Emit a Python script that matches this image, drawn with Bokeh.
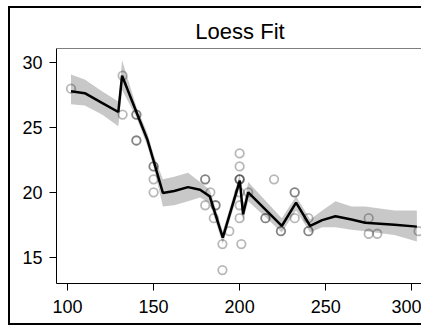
from bokeh.plotting import figure
from bokeh.models import Range1d, FixedTicker, Span
from bokeh.embed import file_html
from bokeh.resources import INLINE

# observed points (duplicates show overlapping, darker circles)
pt_x = [102, 132, 132, 140, 140, 140, 140, 150, 150, 150, 150,
        180, 180, 183, 180, 186, 186, 185, 190, 190, 194,
        200, 200, 200, 200, 200, 200, 200, 200, 201, 205,
        220, 215, 215, 224, 224, 232, 232, 232, 240, 240, 240,
        275, 275, 280, 304]
pt_y = [28, 29, 26, 26, 26, 24, 24, 22, 22, 21, 20,
        21, 21, 20, 19, 19, 19, 18, 16, 14, 17,
        23, 22, 21, 21, 21, 20, 19, 18, 16, 20,
        21, 18, 18, 17, 17, 20, 20, 18, 17, 17, 18,
        18, 16.8, 16.8, 17]

# loess fit and its confidence band
fit_x = [102, 110, 120, 129.5, 131.7, 140, 146.3, 150.3, 155.4, 162, 170, 177,
         182.6, 190.2, 200.1, 202, 205, 214, 224.5, 232.8, 241, 248, 255.7,
         265, 273, 290, 303]
fit_y = [27.8, 27.65, 26.9, 26.2, 29.0, 26.2, 24.1, 22.3, 19.95, 20.1, 20.4, 20.2,
         19.7, 16.5, 20.9, 18.3, 20.0, 18.8, 17.4, 19.2, 17.4, 17.85, 18.15,
         17.9, 17.65, 17.5, 17.35]
fit_lo = [26.8, 26.7, 26.0, 25.1, 27.9, 25.8, 23.6, 21.8, 18.9, 19.0, 19.3, 19.6,
          19.2, 16.0, 20.4, 17.8, 19.3, 18.2, 16.9, 18.6, 16.9, 17.3, 17.3,
          17.1, 17.0, 16.7, 16.2]
fit_hi = [29.1, 28.7, 27.8, 27.0, 30.2, 26.6, 24.6, 22.8, 21.0, 21.2, 21.5, 20.8,
          20.2, 17.0, 21.4, 18.8, 20.8, 19.5, 18.0, 19.7, 17.9, 18.6, 19.3,
          18.9, 18.9, 18.6, 18.6]

x_ticks = [100, 150, 200, 250, 300]
y_ticks = [15, 20, 25, 30]

FONT = "Liberation Sans"
W, H = 411, 315
PX_PER_X = 1.7113
X0 = 93.57
X1 = X0 + (W - 46) / PX_PER_X

p = figure(width=W, height=H, output_backend="svg", toolbar_location=None,
           x_range=Range1d(X0, X1), y_range=Range1d(12.96, 31.1),
           min_border_left=46, min_border_right=0, min_border_top=40,
           min_border_bottom=44, title="Loess Fit")
p.styles = {"margin-left": "8px", "margin-top": "6px",
            "border-left": "2px solid black", "border-top": "2px solid black",
            "border-bottom": "2px solid black",
            "box-sizing": "content-box"}

p.title.align = "center"
p.title.offset = 3
p.title.text_font = FONT
p.title.text_font_size = "22px"
p.title.text_font_style = "normal"
p.title.text_color = "black"

p.grid.visible = False
p.outline_line_color = None

for ax in (p.xaxis[0], p.yaxis[0]):
    ax.axis_line_color = "black"
    ax.axis_line_width = 1
    ax.major_tick_line_color = "black"
    ax.major_tick_out = 7
    ax.major_tick_in = 0
    ax.minor_tick_line_color = None
    ax.major_label_text_font = FONT
    ax.major_label_text_font_size = "18px"
    ax.major_label_text_color = "black"
p.xaxis.ticker = FixedTicker(ticks=x_ticks)
p.yaxis.ticker = FixedTicker(ticks=y_ticks)
p.xaxis.major_label_standoff = 9
p.yaxis.major_label_standoff = 7

p.add_layout(Span(location=31.1, dimension="width", line_color="black", line_width=1))

p.varea(x=fit_x, y1=fit_lo, y2=fit_hi, fill_color="#c8c8c8", fill_alpha=1)
p.line(fit_x, fit_y, line_color="black", line_width=2.5)
p.scatter(pt_x, pt_y, marker="circle", size=8.5, fill_color=None,
          line_color="black", line_alpha=0.28, line_width=1.8)

open("out.html", "w").write(file_html(p, INLINE))
